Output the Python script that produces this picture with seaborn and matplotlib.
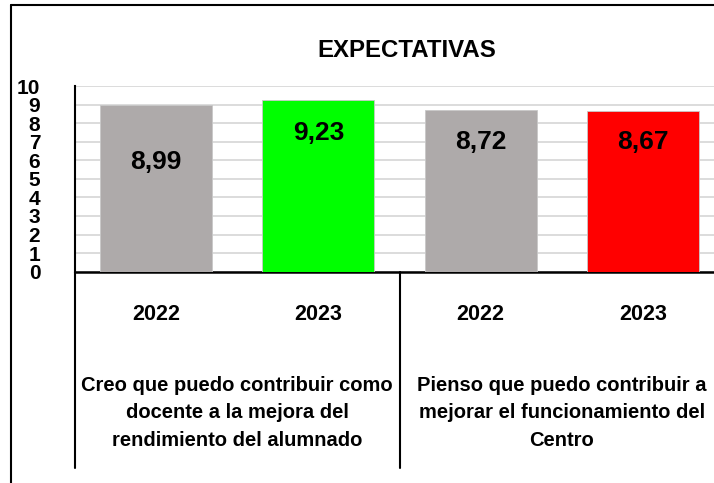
import matplotlib
matplotlib.use("Agg")
import matplotlib.pyplot as plt
import matplotlib.transforms as mtransforms
from matplotlib.lines import Line2D
import seaborn as sns
import pandas as pd

# ---- data ----
title = "EXPECTATIVAS"
keys = ["g1_2022", "g1_2023", "g2_2022", "g2_2023"]
years = ["2022", "2023", "2022", "2023"]
values = [8.99, 9.23, 8.72, 8.67]
value_labels = ["8,99", "9,23", "8,72", "8,67"]
groups = ["Creo que puedo contribuir como\ndocente a la mejora del\nrendimiento del alumnado",
          "Pienso que puedo contribuir a\nmejorar el funcionamiento del\nCentro"]
group_centers = [0.5, 2.5]
yticks = list(range(0, 11))

# ---- style ----
colors = ["#AEAAAA", "#00FF00", "#AEAAAA", "#FF0000"]
label_offsets_px = [-57, -33, -32, -31]

sns.set_theme(style="white")
plt.rcParams["font.family"] = ["Liberation Sans", "DejaVu Sans"]
plt.rcParams["font.weight"] = "bold"
plt.rcParams["text.color"] = "black"
plt.rcParams["xtick.color"] = "black"
plt.rcParams["ytick.color"] = "black"

W, H = 714, 483
fig = plt.figure(figsize=(W / 100, H / 100), dpi=100)
ax = fig.add_axes([75 / W, (H - 271.7) / H, (724 - 75) / W, (271.7 - 86) / H])

df = pd.DataFrame({"key": keys, "value": values})
sns.barplot(data=df, x="key", y="value", hue="key", palette=colors, legend=False,
            saturation=1, width=0.69, ax=ax, edgecolor="#C8C8C8", linewidth=0.6, zorder=3)

ax.set_xlim(-0.5, 3.5)
ax.set_ylim(0, 10)
ax.set_yticks(yticks)
ax.set_yticklabels([str(t) for t in yticks], fontsize=15, fontweight="bold", color="black")
ax.set_xticks(range(4))
ax.set_xticklabels(years, fontsize=15.5, fontweight="bold", color="black")
ax.tick_params(axis="y", length=0, pad=25)
ax.tick_params(axis="x", length=0, pad=23)
ax.set_xlabel("")
ax.set_ylabel("")
ax.yaxis.grid(True, color="#D9D9D9", linewidth=1.3, zorder=0)
ax.set_axisbelow(True)
for s in ["top", "right"]:
    ax.spines[s].set_visible(False)
ax.spines["left"].set_color("black")
ax.spines["left"].set_linewidth(1.5)
ax.spines["bottom"].set_color("black")
ax.spines["bottom"].set_linewidth(1.8)

for i, (v, lab) in enumerate(zip(values, value_labels)):
    ax.annotate(lab, xy=(i, v), xytext=(0, label_offsets_px[i]), textcoords="offset pixels",
                ha="center", va="center", fontsize=19, fontweight="bold", color="black")

# multi-level category axis
trans = mtransforms.blended_transform_factory(ax.transData, fig.transFigure)
for gx, gl in zip(group_centers, groups):
    ax.text(gx, (H - 413) / H, gl, transform=trans, ha="center", va="center",
            fontsize=14.5, fontweight="bold", linespacing=1.55, clip_on=False, color="black")
for sx in [-0.5, 1.5]:
    ax.add_line(Line2D([sx, sx], [(H - 271.7) / H, (H - 468) / H], transform=trans,
                       color="black", linewidth=1.5, clip_on=False))

# title
fig.text(406.5 / W, (H - 50.7) / H, title, ha="center", va="center",
         fontsize=17.3, fontweight="bold", color="black")

# chart frame (top and left edges)
fig.add_artist(Line2D([10.5 / W, 1], [(H - 5) / H, (H - 5) / H], transform=fig.transFigure,
                      color="black", linewidth=1.5))
fig.add_artist(Line2D([10.5 / W, 10.5 / W], [0, (H - 5) / H], transform=fig.transFigure,
                      color="black", linewidth=1.5))

fig.savefig("out.png", dpi=100)
